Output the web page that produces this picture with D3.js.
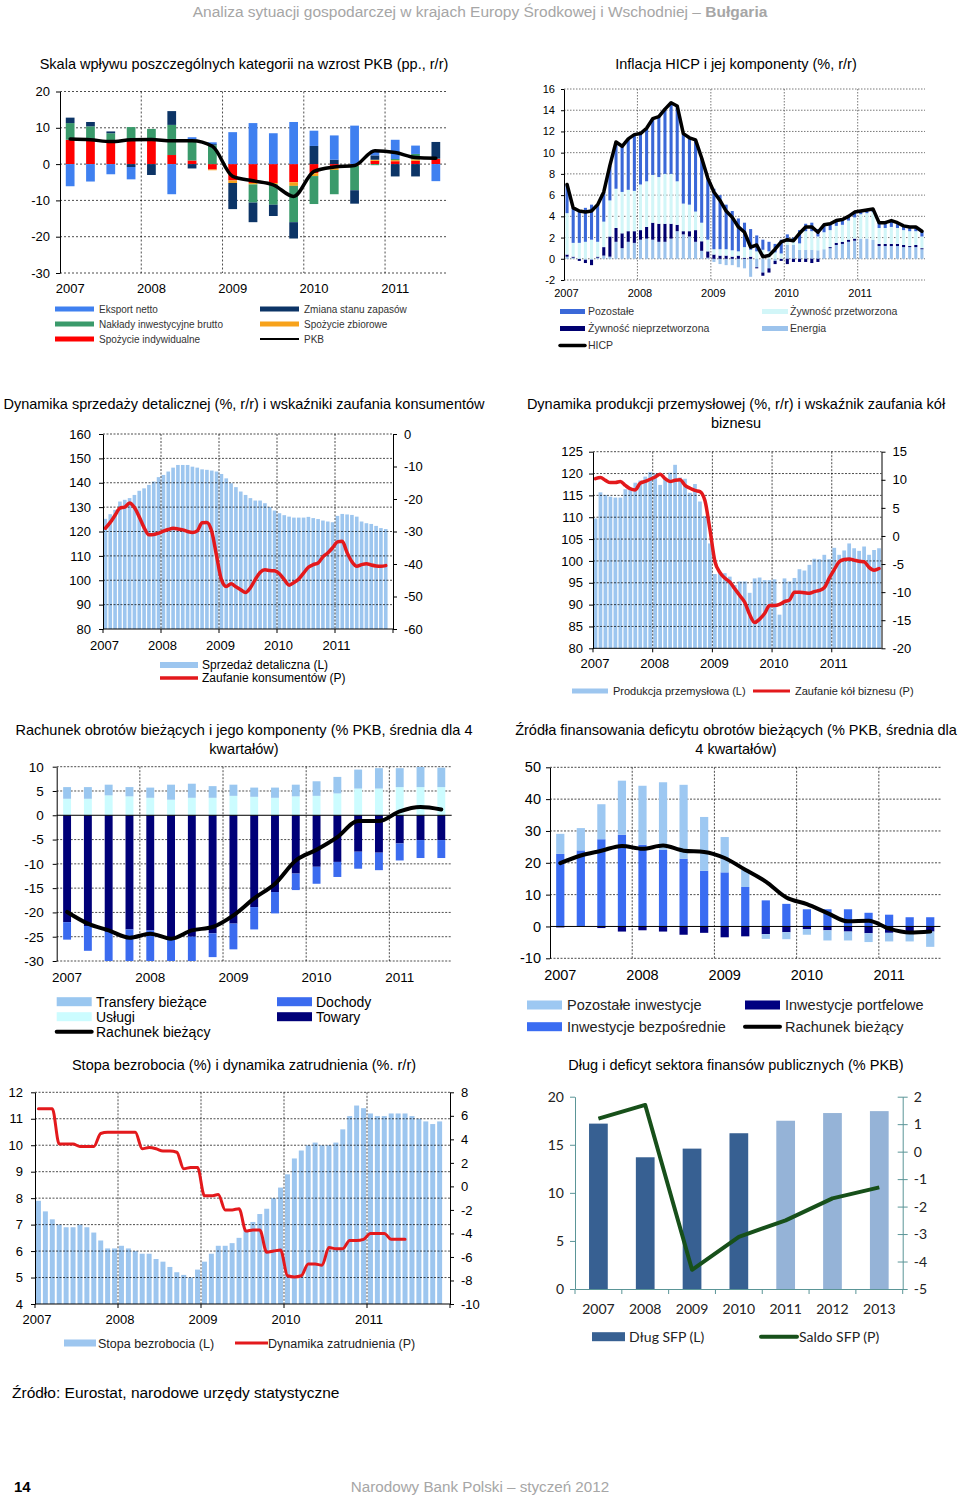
<!DOCTYPE html>
<html><head><meta charset="utf-8">
<script src="https://cdn.jsdelivr.net/npm/d3@7"></script>
<style>
body{margin:0;background:#fff;}
svg{display:block;}
</style></head><body>
<svg id="c" width="960" height="1496"></svg>
<script>
// ================= DATA =================
const years = ["2007","2008","2009","2010","2011"];
const quarters = ["I 07","II 07","III 07","IV 07","I 08","II 08","III 08","IV 08","I 09","II 09","III 09","IV 09","I 10","II 10","III 10","IV 10","I 11","II 11","III 11"];
const months = d3.range(60).map(i => years[Math.floor(i/12)] + "-" + String(i%12+1).padStart(2,"0"));

// Chart 1: GDP contributions (pp)
const gdpTicks = [-30,-20,-10,0,10,20];
const gdpSpozIndyw = [6.7,6.6,6.2,6.7,6.7,2.5,1.0,-1.5,-4.5,-5.2,-5.2,-5.0,-2.5,-1.0,-0.3,0.9,0.8,0.9,1.4];
const gdpSpozZbior = [0,0,0,0,0,0,0,-0.2,-0.7,-0.4,-0.3,-1.0,-0.8,-0.6,-0.2,0.3,0.3,0.4,0.1];
const gdpInwest    = [4.6,3.8,2.3,3.5,3.0,8.3,5.8,5.2,0,-5.0,-5.7,-10.0,-7.7,-6.7,-6.7,-0.3,0.3,1.5,0];
const gdpZapasy    = [1.5,1.2,0.5,-0.8,-3.0,3.8,-1.2,0.3,-7.2,-5.4,-3.1,-4.5,5.0,1.2,-3.7,1.2,-3.4,-3.4,4.6];
const gdpEksport   = [-6.1,-4.8,-2.8,-3.4,0,-8.3,0.6,0.5,8.8,11.3,8.5,11.6,4.2,6.7,10.6,1.5,5.3,2.3,-4.7];
const gdpPKB       = [6.9,6.7,6.2,6.7,6.8,6.4,6.4,4.9,-3.4,-4.6,-5.7,-8.9,-2.0,-0.8,-0.4,3.7,3.2,1.8,1.6];

// Chart 2: HICP components (%, y/y), monthly Jan 2007 - Nov 2011
const hicpTicks = [-2,0,2,4,6,8,10,12,14,16];
const hicpEnergia = [0.2,0.1,0.0,-0.1,-0.1,0.1,0.3,0.2,1.6,1.0,1.6,1.5,
  1.8,1.9,1.8,1.6,1.6,1.9,2.6,2.3,2.1,1.6,0.75,0.1,
  -0.3,-0.5,-0.6,-0.6,-0.8,-0.9,-1.7,-0.8,-1.3,-0.9,-0.2,0.0,
  1.3,1.3,0.85,0.85,0.85,0.8,0.9,1.0,1.3,1.4,1.6,1.7,
  1.9,1.9,1.8,1.2,1.2,1.2,1.2,1.1,1.1,1.1,0.9];
const hicpNieprzetw = [0.2,0.1,-0.2,-0.3,-0.5,0.1,0.8,1.9,1.3,1.4,1.0,1.1,
  0.9,1.1,1.6,1.7,1.7,1.4,0.6,0.3,0.5,1.1,0.9,0.6,
  0.4,0.3,0.3,0.2,0.3,0.1,0.2,-0.1,-0.3,-0.4,-0.3,-0.2,
  -0.5,-0.3,-0.3,-0.3,-0.4,-0.3,0.0,0.1,0.2,0.2,0.2,0.2,
  0.0,0.0,0.0,0.2,0.2,0.2,0.2,0.2,0.1,0.2,0.1];
const hicpPrzetw = [3.9,1.3,1.5,1.6,1.8,1.4,2.4,3.4,3.7,3.9,3.9,3.8,
  4.3,4.3,4.5,4.4,4.7,4.7,4.1,2.6,2.5,1.75,1.75,1.1,
  0.5,0.6,0.6,0.6,0.4,1.0,0.65,0.7,0.85,0.7,0.6,0.5,
  0.3,0.3,0.6,1.75,1.75,1.3,1.6,1.6,1.6,1.6,1.8,2.0,
  2.3,2.4,2.6,1.5,1.5,1.6,1.5,1.4,1.4,1.3,1.1];
const hicpPozostale = [2.7,3.3,3.0,3.2,3.3,3.5,2.8,3.3,4.4,4.3,4.8,5.3,
  4.8,5.0,5.3,5.7,6.1,6.7,7.1,6.6,6.3,6.75,6.1,5.8,
  5.7,5.1,4.2,3.7,3.1,2.3,1.95,1.5,0.95,0.9,0.8,1.3,
  0.7,0.4,1.25,0.7,0.8,0.7,0.7,0.6,0.5,0.5,0.4,0.5,
  0.3,0.3,0.3,0.5,0.5,0.6,0.5,0.4,0.4,0.4,0.5];
const hicpTotal = [7.0,4.8,4.5,4.4,4.5,5.1,6.3,8.8,11.0,10.6,11.3,11.7,
  11.8,12.3,13.2,13.4,14.1,14.7,14.4,11.8,11.4,11.2,9.5,7.6,
  6.3,5.5,4.5,3.9,3.0,2.5,1.1,1.3,0.2,0.3,0.9,1.6,
  1.8,1.7,2.4,3.0,3.0,2.5,3.2,3.3,3.6,3.7,4.0,4.4,
  4.5,4.6,4.7,3.4,3.4,3.6,3.4,3.1,3.0,3.0,2.6];

// Chart 3: retail sales (L) and consumer confidence (P)
const retailTicksL = [80,90,100,110,120,130,140,150,160];
const retailTicksR = [-60,-50,-40,-30,-20,-10,0];
const retailSales = [125.2,127.1,128.9,132.3,133,133.7,135,136.7,137.7,139.1,140.5,142.3,
  143.2,144.6,146.2,147.3,147.3,147.3,146.6,146.2,145.5,145.3,145,144.6,
  143.6,141.8,139.8,138.2,136.4,135,133.7,132.7,132.7,131.6,130,128.6,
  127.5,126.7,126.1,125.7,125.7,125.7,126,125.5,125.1,124.5,124.1,123.8,
  126.4,127.2,127,126.8,126.1,124.1,123.4,123.1,122.3,121.4,121];
const consConf = [-29,-27.2,-25,-22.8,-22.5,-21.2,-22.6,-25.5,-28.8,-31,-30.9,-30.5,
  -29.9,-29.4,-29,-29.2,-29.5,-30,-30.3,-29.8,-27.3,-27.2,-30,-37.5,
  -44.8,-46.9,-46.1,-47,-47.9,-48.8,-47.3,-44.8,-42.6,-41.8,-42,-42.1,
  -43,-44.8,-46.5,-45.7,-44.6,-42.8,-41,-40.2,-39.7,-37.8,-36.6,-35,
  -33.2,-33,-36.5,-39.3,-40.7,-40.2,-39.9,-40.3,-40.6,-40.7,-40.5];

// Chart 4: industrial production (L) and business confidence (P)
const indTicksL = [80,85,90,95,100,105,110,115,120,125];
const indTicksR = [-20,-15,-10,-5,0,5,10,15];
const indProd = [109.7,115.7,115.1,114.7,114.5,114.5,116.4,116.8,117.9,118.4,119.3,120.3,
  120,117.4,118.9,120.2,122,119.1,118.8,115.6,117.6,113.6,110.3,104,
  97,97.3,97.2,96.4,94.5,95.3,95.3,92.7,96,96.2,95.6,95.6,
  95.8,87.7,96,95.3,96.1,98.1,97.8,99.1,100.5,100.4,101.4,100.4,
  103,101.4,102.4,104,102.9,102.3,103.3,101.4,102.5,102.9];
const busConf = [10.2,10.4,9.9,9.5,9.5,9.7,9.0,8.4,8.2,9.4,9.7,10.1,
  10.5,11.0,10.2,9.7,9.9,10.0,9.0,8.5,8.1,7.9,6.3,1.2,
  -4.5,-6.5,-7.5,-8.2,-9.4,-10.6,-11.8,-14.0,-15.4,-14.8,-13.8,-12.4,
  -12.4,-12.2,-11.7,-11.4,-10.0,-10.0,-10.1,-10.2,-9.9,-9.7,-9.2,-7.5,
  -6.0,-4.6,-4.2,-4.1,-4.3,-4.5,-4.6,-5.6,-6.1,-5.8];

// Chart 5: current account components (% GDP, 4q average)
const caTicks = [-30,-25,-20,-15,-10,-5,0,5,10];
const caTransfery = [2.4,2.4,2.2,1.9,2.1,3.1,2.9,2.4,2.3,1.9,2.1,2.4,3.0,3.4,3.9,4.2,3.9,4.2,4.0];
const caUslugi    = [3.4,3.4,4.1,3.9,3.6,3.2,3.6,3.6,4.0,3.8,3.6,3.9,4.0,4.5,5.5,5.5,5.8,5.8,5.8];
const caDochody   = [-3.6,-5.1,-6.5,-7.0,-7.0,-6.0,-6.5,-4.9,-5.3,-4.6,-4.4,-3.4,-3.5,-3.1,-3.5,-3.6,-3.5,-3.7,-3.7];
const caTowary    = [-22,-22.8,-24,-23.5,-23.7,-25.2,-25,-24.3,-22.3,-18.9,-15.8,-12,-10.6,-9.6,-7.5,-7.7,-5.8,-5.1,-5.1];
const caRachunek  = [-19.9,-22.3,-23.7,-25.2,-24.4,-25.4,-23.7,-23.0,-20.6,-17.1,-14.1,-9.3,-7.1,-4.5,-1.2,-1.2,0.8,1.7,1.2];

// Chart 6: financing of CA deficit (% GDP, 4q average)
const finTicks = [-10,0,10,20,30,40,50];
const finPozostale   = [6.3,7.0,11.0,17.0,18.5,21.2,23.2,16.9,11.1,5.4,-1.5,-2.2,-1.8,-3.2,-2.8,-2.8,-2.7,-2.8,-4.8];
const finBezposr     = [22.8,23.9,27.4,28.8,25.7,24.1,21.3,17.5,17.0,12.4,8.2,7.1,5.4,5.4,5.4,4.3,3.7,2.9,2.9];
const finPortfel     = [-0.3,0,-0.5,-1.6,-1.2,-1.6,-2.6,-2.0,-3.4,-3.1,-2.4,-1.8,-0.8,-1.2,-1.6,-2.1,-2.0,-1.9,-1.6];
const finRachunek    = [19.9,22.3,23.8,25.3,24.4,25.4,23.8,23.4,21.5,17.8,14.1,9.1,7.0,4.2,1.6,1.8,-0.7,-1.9,-1.6];

// Chart 7: unemployment rate (L) and employment growth (P)
const unTicksL = [4,5,6,7,8,9,10,11,12];
const unTicksR = [-10,-8,-6,-4,-2,0,2,4,6,8];
const unemp = [7.9,7.5,7.2,7.0,6.9,6.9,7.0,6.9,6.7,6.4,6.1,6.1,
  6.2,6.1,6.0,5.9,5.9,5.7,5.6,5.4,5.2,5.1,5.0,5.3,
  5.6,5.9,6.2,6.2,6.3,6.5,6.8,7.1,7.4,7.6,8.0,8.4,
  8.9,9.5,9.8,10.0,10.1,10.0,10.0,10.1,10.6,11.1,11.5,11.4,
  11.2,11.1,11.1,11.2,11.2,11.2,11.1,11.0,10.9,10.8,10.9];
const emplDyn = [6.6,6.6,6.6,3.6,3.6,3.6,3.4,3.4,3.4,4.5,4.6,4.6,
  4.6,4.6,4.6,3.2,3.3,3.2,3.0,3.0,2.9,1.5,1.6,1.6,
  -0.8,-0.8,-0.7,-2.0,-2.0,-1.9,-3.8,-3.7,-3.7,-5.6,-5.5,-5.4,
  -7.6,-7.7,-7.6,-6.6,-6.6,-6.7,-5.2,-5.3,-5.3,-4.6,-4.6,-4.5,
  -4.0,-4.0,-4.0,-4.5,-4.5,-4.5];

// Chart 8: public debt (L) and balance (P)
const debtYears = ["2007","2008","2009","2010","2011","2012","2013"];
const debtTicksL = [0,5,10,15,20];
const debtTicksR = [-5,-4,-3,-2,-1,0,1,2];
const debtSFP  = [17.2,13.7,14.6,16.2,17.5,18.3,18.5];
const saldoSFP = [1.2,1.7,-4.3,-3.1,-2.5,-1.7,-1.3];

// ================= HELPERS =================
const FONT = "'Liberation Sans', Arial, sans-serif";
const svg = d3.select("#c");
const fmt = d => String(d);

function txt(x, y, s, o = {}) {
  return svg.append("text").attr("x", x).attr("y", y).text(s)
    .attr("font-family", o.family || FONT).attr("font-size", o.size || 12)
    .attr("text-anchor", o.anchor || "start").attr("fill", o.fill || "#000")
    .attr("font-weight", o.weight || "normal");
}
function gridH(g, vals, y, x0, x1, color, dash, w) {
  g.append("g").selectAll("line").data(vals).join("line")
    .attr("x1", x0).attr("x2", x1).attr("y1", d => y(d)).attr("y2", d => y(d))
    .attr("stroke", color).attr("stroke-dasharray", dash).attr("stroke-width", w || 0.8);
}
function edge(x, i) {
  const dom = x.domain();
  return i >= dom.length ? x.range()[1] : x(dom[i]) - x.step() * x.paddingInner() / 2;
}
function gridV(g, x, idx, y0, y1, color, dash, w) {
  g.append("g").selectAll("line").data(idx).join("line")
    .attr("x1", i => edge(x, i)).attr("x2", i => edge(x, i)).attr("y1", y0).attr("y2", y1)
    .attr("stroke", color).attr("stroke-dasharray", dash).attr("stroke-width", w || 0.8);
}
function styleAxis(sel, size, color, family) {
  sel.attr("font-family", family || FONT).attr("font-size", size);
  sel.selectAll("text").attr("fill", color || "#000");
  sel.selectAll("line").attr("stroke", color || "#000");
  sel.select(".domain").attr("stroke", color || "#000");
}
function drawStack(g, rows, keys, colors, x, y) {
  const series = d3.stack().keys(keys).offset(d3.stackOffsetDiverging)(rows);
  g.append("g").selectAll("g").data(series).join("g").attr("fill", s => colors[s.key])
    .selectAll("rect").data(s => s).join("rect")
    .attr("x", d => x(d.data.c)).attr("width", x.bandwidth())
    .attr("y", d => y(Math.max(d[0], d[1])))
    .attr("height", d => Math.abs(y(d[0]) - y(d[1])));
}
function drawLine(g, cats, vals, x, y, color, w, curve) {
  g.append("path").datum(vals)
    .attr("d", d3.line().x((d, i) => x(cats[i]) + x.bandwidth() / 2).y(d => y(d)).curve(curve || d3.curveMonotoneX))
    .attr("fill", "none").attr("stroke", color).attr("stroke-width", w)
    .attr("stroke-linejoin", "round").attr("stroke-linecap", "round");
}
function legend(items, size, family) {
  items.forEach(it => {
    if (it.type === "rect") {
      svg.append("rect").attr("x", it.x).attr("y", it.y - it.h / 2).attr("width", it.w).attr("height", it.h).attr("fill", it.color);
    } else {
      svg.append("line").attr("x1", it.x).attr("x2", it.x + it.w).attr("y1", it.y).attr("y2", it.y)
        .attr("stroke", it.color).attr("stroke-width", it.sw || 3).attr("stroke-linecap", it.cap || "butt");
    }
    txt(it.tx, it.y + size * 0.36, it.label, { size: size, family: family, fill: it.tc || "#000" });
  });
}
function yearLabels(x, idx, yPos, size, mode, dx) {
  idx.forEach((i, k) => {
    const px = mode === "band" ? x(x.domain()[i]) + x.bandwidth() / 2 : edge(x, i) + (dx || 0);
    txt(px, yPos, years[k], { size: size, anchor: "middle" });
  });
}

// ================= PAGE TEXT =================
const hdr = txt(480, 17, "Analiza sytuacji gospodarczej w krajach Europy Środkowej i Wschodniej – ", { size: 15.5, anchor: "middle", fill: "#a6a6a6" });
hdr.append("tspan").attr("font-weight", "bold").text("Bułgaria");
txt(12, 1398, "Źródło: Eurostat, narodowe urzędy statystyczne", { size: 15.5 });
txt(14, 1492, "14", { size: 15, weight: "bold" });
txt(480, 1492, "Narodowy Bank Polski – styczeń 2012", { size: 15.2, anchor: "middle", fill: "#a6a6a6" });

const TS = 14.5;
txt(244, 69, "Skala wpływu poszczególnych kategorii na wzrost PKB (pp., r/r)", { size: TS, anchor: "middle" });
txt(736, 69, "Inflacja HICP i jej komponenty (%, r/r)", { size: TS, anchor: "middle" });
txt(244, 409, "Dynamika sprzedaży detalicznej (%, r/r) i wskaźniki zaufania konsumentów", { size: TS, anchor: "middle" });
txt(736, 409, "Dynamika produkcji przemysłowej (%, r/r) i wskaźnik zaufania kół", { size: TS, anchor: "middle" });
txt(736, 428, "biznesu", { size: TS, anchor: "middle" });
txt(244, 735, "Rachunek obrotów bieżących i jego komponenty (% PKB, średnia dla 4", { size: TS, anchor: "middle" });
txt(244, 754, "kwartałów)", { size: TS, anchor: "middle" });
txt(736, 735, "Źródła finansowania deficytu obrotów bieżących (% PKB, średnia dla", { size: TS, anchor: "middle" });
txt(736, 754, "4 kwartałów)", { size: TS, anchor: "middle" });
txt(244, 1070, "Stopa bezrobocia (%) i dynamika zatrudnienia (%. r/r)", { size: TS, anchor: "middle" });
txt(736, 1070, "Dług i deficyt sektora finansów publicznych (% PKB)", { size: TS, anchor: "middle" });

// ================= CHART 1 =================
{
  const g = svg.append("g");
  const x = d3.scaleBand().domain(quarters).range([60, 446]).paddingInner(0.57).paddingOuter(0.285);
  const y = d3.scaleLinear().domain([-30, 20]).range([273, 91.5]);
  gridH(g, gdpTicks, y, 60, 446, "#000", "2,2", 0.7);
  gridV(g, x, [4, 8, 12, 16], 91.5, 273, "#000", "2,2", 0.7);
  const rows = quarters.map((c, i) => ({ c, indyw: gdpSpozIndyw[i], zbior: gdpSpozZbior[i], inwest: gdpInwest[i], zapasy: gdpZapasy[i], eksport: gdpEksport[i] }));
  drawStack(g, rows, ["indyw", "zbior", "inwest", "zapasy", "eksport"],
    { indyw: "#ff0000", zbior: "#f7a21b", inwest: "#3a9a6b", zapasy: "#0c3466", eksport: "#3f80f0" }, x, y);
  drawLine(g, quarters, gdpPKB, x, y, "#000", 3.5);
  const ax = g.append("g").attr("transform", "translate(60,0)").call(d3.axisLeft(y).tickValues(gdpTicks).tickFormat(fmt).tickSize(4).tickPadding(6).tickSizeOuter(0));
  styleAxis(ax, 13);
  yearLabels(x, [0, 4, 8, 12, 16], 293, 13, "band");
  legend([
    { type: "rect", x: 55, y: 309, w: 39, h: 5, color: "#3f80f0", tx: 99, label: "Eksport netto", tc: "#333" },
    { type: "rect", x: 55, y: 324, w: 39, h: 5, color: "#3a9a6b", tx: 99, label: "Nakłady inwestycyjne brutto", tc: "#333" },
    { type: "rect", x: 55, y: 339, w: 39, h: 5, color: "#ff0000", tx: 99, label: "Spożycie indywidualne", tc: "#333" },
    { type: "rect", x: 260, y: 309, w: 39, h: 5, color: "#0c3466", tx: 304, label: "Zmiana stanu zapasów", tc: "#333" },
    { type: "rect", x: 260, y: 324, w: 39, h: 5, color: "#f7a21b", tx: 304, label: "Spożycie zbiorowe", tc: "#333" },
    { type: "line", x: 260, y: 339, w: 39, sw: 2, color: "#000", tx: 304, label: "PKB", tc: "#333" }
  ], 10);
}

// ================= CHART 2 =================
{
  const g = svg.append("g");
  const cats = months.slice(0, 59);
  const x = d3.scaleBand().domain(cats).range([564, 925]).paddingInner(0.5).paddingOuter(0.25);
  const y = d3.scaleLinear().domain([-2, 16]).range([280, 89]);
  gridH(g, hicpTicks, y, 564, 925, "#555", "1.5,1.5", 0.8);
  gridV(g, x, [12, 24, 36, 48], 89, 280, "#555", "1.5,1.5", 0.8);
  const rows = cats.map((c, i) => ({ c, E: hicpEnergia[i], U: hicpNieprzetw[i], P: hicpPrzetw[i], O: hicpPozostale[i] }));
  drawStack(g, rows, ["E", "U", "P", "O"], { E: "#9cc3ec", U: "#000070", P: "#d2f6f8", O: "#3a68d8" }, x, y);
  drawLine(g, cats, hicpTotal, x, y, "#000", 3.5, d3.curveLinear);
  const ax = g.append("g").attr("transform", "translate(564,0)").call(d3.axisLeft(y).tickValues(hicpTicks).tickFormat(fmt).tickSize(3).tickPadding(6).tickSizeOuter(0));
  styleAxis(ax, 11);
  yearLabels(x, [0, 12, 24, 36, 48], 297, 11, "edge", 2.5);
  legend([
    { type: "rect", x: 560, y: 311.5, w: 25, h: 5, color: "#3a68d8", tx: 588, label: "Pozostałe", tc: "#333" },
    { type: "rect", x: 560, y: 328.5, w: 25, h: 5, color: "#000070", tx: 588, label: "Żywność nieprzetworzona", tc: "#333" },
    { type: "line", x: 560, y: 345.5, w: 25, sw: 3.5, cap: "round", color: "#000", tx: 588, label: "HICP", tc: "#333" },
    { type: "rect", x: 762, y: 311.5, w: 26, h: 5, color: "#d2f6f8", tx: 790, label: "Żywność przetworzona", tc: "#333" },
    { type: "rect", x: 762, y: 328.5, w: 26, h: 5, color: "#9cc3ec", tx: 790, label: "Energia", tc: "#333" }
  ], 10.5);
}

// ================= CHART 3 =================
{
  const g = svg.append("g");
  const x = d3.scaleBand().domain(months).range([103, 393]).paddingInner(0.25).paddingOuter(0.125);
  const yL = d3.scaleLinear().domain([80, 160]).range([629, 434]);
  const yR = d3.scaleLinear().domain([-60, 0]).range([629, 434]);
  const cats = months.slice(0, 59);
  g.append("g").selectAll("rect").data(retailSales).join("rect")
    .attr("x", (d, i) => x(cats[i])).attr("width", x.bandwidth())
    .attr("y", d => yL(d)).attr("height", d => yL(80) - yL(d)).attr("fill", "#9dc6ef");
  gridH(g, retailTicksL.slice(1), yL, 103, 393, "#000", "2,1.5", 0.7);
  gridV(g, x, [12, 24, 36, 48], 434, 629, "#000", "2,1.5", 0.7);
  drawLine(g, cats, consConf, x, yR, "#e3191c", 3.5);
  const axL = g.append("g").attr("transform", "translate(103,0)").call(d3.axisLeft(yL).tickValues(retailTicksL).tickFormat(fmt).tickSize(4).tickPadding(8).tickSizeOuter(0));
  styleAxis(axL, 13);
  const axR = g.append("g").attr("transform", "translate(393,0)").call(d3.axisRight(yR).tickValues(retailTicksR).tickFormat(fmt).tickSize(4).tickPadding(7).tickSizeOuter(0));
  styleAxis(axR, 13);
  g.append("line").attr("x1", 103).attr("x2", 393).attr("y1", 629).attr("y2", 629).attr("stroke", "#000");
  g.append("g").selectAll("line").data([0, 12, 24, 36, 48, 60]).join("line")
    .attr("x1", i => edge(x, i)).attr("x2", i => edge(x, i)).attr("y1", 629).attr("y2", 633).attr("stroke", "#000");
  yearLabels(x, [0, 12, 24, 36, 48], 650, 13, "edge", 1.5);
  legend([
    { type: "rect", x: 160, y: 665, w: 38, h: 6, color: "#9dc6ef", tx: 202, label: "Sprzedaż detaliczna (L)" },
    { type: "line", x: 160, y: 678, w: 38, sw: 3.5, color: "#e3191c", tx: 202, label: "Zaufanie konsumentów (P)" }
  ], 12);
}

// ================= CHART 4 =================
{
  const g = svg.append("g");
  const cats = months.slice(0, 58);
  const x = d3.scaleBand().domain(cats).range([593, 881.5]).paddingInner(0.25).paddingOuter(0.125);
  const yL = d3.scaleLinear().domain([80, 125]).range([648.3, 451.7]);
  const yR = d3.scaleLinear().domain([-20, 15]).range([648.3, 451.7]);
  g.append("g").selectAll("rect").data(indProd).join("rect")
    .attr("x", (d, i) => x(cats[i])).attr("width", x.bandwidth())
    .attr("y", d => yL(d)).attr("height", d => yL(80) - yL(d)).attr("fill", "#9dc6ef");
  gridH(g, indTicksL.slice(1), yL, 593, 881.5, "#000", "2,1.5", 0.7);
  gridV(g, x, [12, 24, 36, 48], 451.7, 648.3, "#000", "2,1.5", 0.7);
  drawLine(g, cats, busConf, x, yR, "#e3191c", 3.5);
  const axL = g.append("g").attr("transform", "translate(593,0)").call(d3.axisLeft(yL).tickValues(indTicksL).tickFormat(fmt).tickSize(4).tickPadding(6).tickSizeOuter(0));
  styleAxis(axL, 13);
  const axR = g.append("g").attr("transform", "translate(881.5,0)").call(d3.axisRight(yR).tickValues(indTicksR).tickFormat(fmt).tickSize(4).tickPadding(7).tickSizeOuter(0));
  styleAxis(axR, 13);
  g.append("line").attr("x1", 593).attr("x2", 881.5).attr("y1", 648.3).attr("y2", 648.3).attr("stroke", "#000");
  g.append("g").selectAll("line").data([0, 12, 24, 36, 48]).join("line")
    .attr("x1", i => edge(x, i)).attr("x2", i => edge(x, i)).attr("y1", 648.3).attr("y2", 652.3).attr("stroke", "#000");
  yearLabels(x, [0, 12, 24, 36, 48], 668, 13, "edge", 2);
  legend([
    { type: "rect", x: 572, y: 691, w: 36, h: 5, color: "#9dc6ef", tx: 613, label: "Produkcja przemysłowa (L)", tc: "#222" },
    { type: "line", x: 753, y: 691, w: 37, sw: 3, color: "#e3191c", tx: 795, label: "Zaufanie kół biznesu (P)", tc: "#222" }
  ], 11);
}

// ================= CHART 5 =================
{
  const g = svg.append("g");
  const x = d3.scaleBand().domain(quarters).range([56.7, 451.7]).paddingInner(0.62).paddingOuter(0.31);
  const y = d3.scaleLinear().domain([-30, 10]).range([961, 766.7]);
  svg.append("clipPath").attr("id", "clip5").append("rect").attr("x", 56.7).attr("y", 766.7).attr("width", 395).attr("height", 194.3);
  gridH(g, caTicks.filter(d => d !== 0), y, 56.7, 451.7, "#000", "2,1.5", 0.7);
  gridV(g, x, [4, 8, 12, 16], 766.7, 961, "#000", "2,1.5", 0.7);
  const rows = quarters.map((c, i) => ({ c, uslugi: caUslugi[i], towary: caTowary[i], transfery: caTransfery[i], dochody: caDochody[i] }));
  const bars = g.append("g").attr("clip-path", "url(#clip5)");
  drawStack(bars, rows, ["uslugi", "towary", "transfery", "dochody"],
    { uslugi: "#ccfcff", towary: "#000078", transfery: "#9ac7f0", dochody: "#3b6bef" }, x, y);
  g.append("line").attr("x1", 56.7).attr("x2", 451.7).attr("y1", y(0)).attr("y2", y(0)).attr("stroke", "#000").attr("stroke-width", 1);
  drawLine(g, quarters, caRachunek, x, y, "#000", 4);
  const ax = g.append("g").attr("transform", "translate(56.7,0)").call(d3.axisLeft(y).tickValues(caTicks).tickFormat(fmt).tickSize(4).tickPadding(9).tickSizeOuter(0));
  styleAxis(ax, 13.5);
  yearLabels(x, [0, 4, 8, 12, 16], 982, 13.5, "band");
  legend([
    { type: "rect", x: 56.7, y: 1001.7, w: 35, h: 9, color: "#9ac7f0", tx: 96, label: "Transfery bieżące" },
    { type: "rect", x: 56.7, y: 1016.7, w: 35, h: 9, color: "#ccfcff", tx: 96, label: "Usługi" },
    { type: "line", x: 56.7, y: 1031.7, w: 35, sw: 4, cap: "round", color: "#000", tx: 96, label: "Rachunek bieżący" },
    { type: "rect", x: 277, y: 1001.7, w: 35, h: 9, color: "#3b6bef", tx: 316, label: "Dochody" },
    { type: "rect", x: 277, y: 1016.7, w: 35, h: 9, color: "#000078", tx: 316, label: "Towary" }
  ], 14);
}

// ================= CHART 6 =================
{
  const g = svg.append("g");
  const x = d3.scaleBand().domain(quarters).range([550, 940.5]).paddingInner(0.6).paddingOuter(0.3);
  const y = d3.scaleLinear().domain([-10, 50]).range([958.3, 767.3]);
  gridH(g, finTicks.filter(d => d !== 0), y, 550, 940.5, "#000", "2,1.5", 0.7);
  gridV(g, x, [4, 8, 12, 16], 767.3, 958.3, "#000", "2,1.5", 0.7);
  const rows = quarters.map((c, i) => ({ c, bezp: finBezposr[i], portf: finPortfel[i], pozost: finPozostale[i] }));
  drawStack(g, rows, ["bezp", "portf", "pozost"], { bezp: "#3a6cf2", portf: "#000080", pozost: "#9dc8f2" }, x, y);
  g.append("line").attr("x1", 550).attr("x2", 940.5).attr("y1", y(0)).attr("y2", y(0)).attr("stroke", "#000").attr("stroke-width", 1);
  drawLine(g, quarters, finRachunek, x, y, "#000", 4);
  const ax = g.append("g").attr("transform", "translate(550,0)").call(d3.axisLeft(y).tickValues(finTicks).tickFormat(fmt).tickSize(4).tickPadding(5).tickSizeOuter(0));
  styleAxis(ax, 14.5);
  yearLabels(x, [0, 4, 8, 12, 16], 980, 14.5, "band");
  legend([
    { type: "rect", x: 527, y: 1005, w: 35, h: 9, color: "#9dc8f2", tx: 567, label: "Pozostałe inwestycje", tc: "#222" },
    { type: "rect", x: 527, y: 1026.7, w: 35, h: 9, color: "#3a6cf2", tx: 567, label: "Inwestycje bezpośrednie", tc: "#222" },
    { type: "rect", x: 745, y: 1005, w: 35, h: 9, color: "#000080", tx: 785, label: "Inwestycje portfelowe", tc: "#222" },
    { type: "line", x: 745, y: 1026.7, w: 35, sw: 4, cap: "round", color: "#000", tx: 785, label: "Rachunek bieżący", tc: "#222" }
  ], 14.5);
}

// ================= CHART 7 =================
{
  const g = svg.append("g");
  const x = d3.scaleBand().domain(months).range([35, 450]).paddingInner(0.28).paddingOuter(0.14);
  const yL = d3.scaleLinear().domain([4, 12]).range([1304, 1092.3]);
  const yR = d3.scaleLinear().domain([-10, 8]).range([1304, 1092.3]);
  const cats = months.slice(0, 59);
  g.append("g").selectAll("rect").data(unemp).join("rect")
    .attr("x", (d, i) => x(cats[i])).attr("width", x.bandwidth())
    .attr("y", d => yL(d)).attr("height", d => yL(4) - yL(d)).attr("fill", "#9dc6ef");
  gridH(g, unTicksL.slice(1), yL, 35, 450, "#000", "2,1.5", 0.7);
  gridV(g, x, [12, 24, 36, 48], 1092.3, 1304, "#000", "2,1.5", 0.7);
  drawLine(g, months.slice(0, 54), emplDyn, x, yR, "#e3191c", 3);
  const axL = g.append("g").attr("transform", "translate(35,0)").call(d3.axisLeft(yL).tickValues(unTicksL).tickFormat(fmt).tickSize(4).tickPadding(8).tickSizeOuter(0));
  styleAxis(axL, 13);
  const axR = g.append("g").attr("transform", "translate(450,0)").call(d3.axisRight(yR).tickValues(unTicksR).tickFormat(fmt).tickSize(4).tickPadding(7).tickSizeOuter(0));
  styleAxis(axR, 13);
  g.append("line").attr("x1", 35).attr("x2", 450).attr("y1", 1304).attr("y2", 1304).attr("stroke", "#000");
  g.append("g").selectAll("line").data([0, 12, 24, 36, 48, 60]).join("line")
    .attr("x1", i => edge(x, i)).attr("x2", i => edge(x, i)).attr("y1", 1304).attr("y2", 1308).attr("stroke", "#000");
  yearLabels(x, [0, 12, 24, 36, 48], 1324, 13, "edge", 2);
  legend([
    { type: "rect", x: 64, y: 1343, w: 32, h: 7, color: "#9dc6ef", tx: 98, label: "Stopa bezrobocia (L)", tc: "#222" },
    { type: "line", x: 235, y: 1343, w: 33, sw: 3, color: "#e3191c", tx: 268, label: "Dynamika zatrudnienia (P)", tc: "#222" }
  ], 12.5);
}

// ================= CHART 8 =================
{
  const F8 = "Lato, 'Open Sans', sans-serif";
  const AX = "#5b9597";
  const g = svg.append("g");
  const x = d3.scaleBand().domain(debtYears).range([575, 902.7]).paddingInner(0.6).paddingOuter(0.3);
  const yL = d3.scaleLinear().domain([0, 20]).range([1289, 1096.7]);
  const yR = d3.scaleLinear().domain([-5, 2]).range([1289, 1096.7]);
  g.append("g").selectAll("rect").data(debtSFP).join("rect")
    .attr("x", (d, i) => x(debtYears[i])).attr("width", x.bandwidth())
    .attr("y", d => yL(d)).attr("height", d => yL(0) - yL(d))
    .attr("fill", (d, i) => i < 4 ? "#376092" : "#95b3d7");
  const axL = g.append("g").attr("transform", "translate(575,0)").call(d3.axisLeft(yL).tickValues(debtTicksL).tickFormat(fmt).tickSize(5).tickPadding(6).tickSizeOuter(0));
  styleAxis(axL, 14, AX, F8);
  axL.selectAll("text").attr("fill", "#222");
  const axR = g.append("g").attr("transform", "translate(902.7,0)").call(d3.axisRight(yR).tickValues(debtTicksR).tickFormat(fmt).tickSize(5).tickPadding(6).tickSizeOuter(0));
  styleAxis(axR, 14, AX, F8);
  axR.selectAll("text").attr("fill", "#222");
  axR.selectAll(".tick line").attr("x1", -5);
  const axB = g.append("g").attr("transform", "translate(0,1289)").call(d3.axisBottom(x).tickSize(0).tickPadding(15).tickSizeOuter(0));
  styleAxis(axB, 14, AX, F8);
  axB.selectAll("text").attr("fill", "#222");
  g.append("g").selectAll("line").data(d3.range(8)).join("line")
    .attr("x1", i => edge(x, i)).attr("x2", i => edge(x, i)).attr("y1", 1289).attr("y2", 1294).attr("stroke", AX);
  g.append("path").datum(saldoSFP)
    .attr("d", d3.line().x((d, i) => x(debtYears[i]) + x.bandwidth() / 2).y(d => yR(d)))
    .attr("fill", "none").attr("stroke", "#17501a").attr("stroke-width", 4).attr("stroke-linejoin", "round");
  legend([
    { type: "rect", x: 592, y: 1336.7, w: 33, h: 9, color: "#376092", tx: 629, label: "Dług SFP (L)", tc: "#222" },
    { type: "line", x: 761, y: 1336.7, w: 36, sw: 4, cap: "round", color: "#17501a", tx: 799, label: "Saldo SFP (P)", tc: "#222" }
  ], 14, F8);
}
</script>
</body></html>
